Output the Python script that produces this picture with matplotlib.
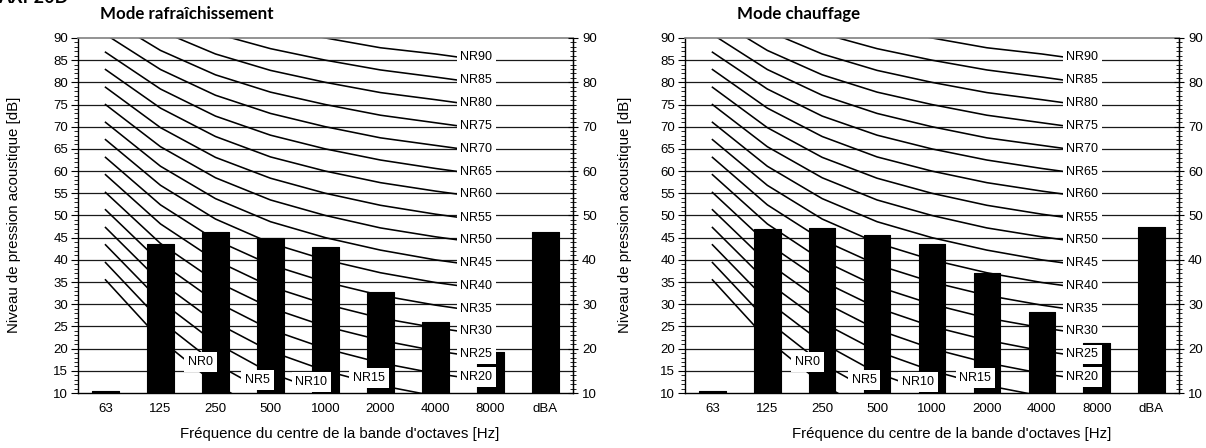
import numpy as np
import matplotlib.pyplot as plt
from matplotlib.ticker import MultipleLocator

plt.rcParams['font.family'] = ['Liberation Sans', 'DejaVu Sans']

# Bandes d'octaves
categories = ['63', '125', '250', '500', '1000', '2000', '4000', '8000', 'dBA']

# Niveaux mesurés [dB]
cooling = [10.5, 43.5, 46.3, 44.9, 42.9, 32.8, 26.1, 19.3, 46.3]
heating = [10.5, 46.9, 47.2, 45.7, 43.5, 37.1, 28.3, 21.2, 47.3]

# Courbes NR (63 ... 8000 Hz)
nr_levels = [0, 5, 10, 15, 20, 25, 30, 35, 40, 45, 50, 55, 60, 65, 70, 75, 80, 85, 90]
nr_table = [
    [35.5, 22.0, 12.0, 4.8, 0.0, -3.5, -6.1, -8.0],
    [39.4, 26.3, 16.6, 9.7, 5.0, 1.6, -1.0, -2.8],
    [43.4, 30.7, 21.3, 14.5, 10.0, 6.6, 4.2, 2.3],
    [47.3, 35.0, 25.9, 19.4, 15.0, 11.7, 9.3, 7.4],
    [51.3, 39.4, 30.6, 24.3, 20.0, 16.8, 14.4, 12.6],
    [55.2, 43.7, 35.2, 29.2, 25.0, 21.9, 19.5, 17.7],
    [59.2, 48.1, 39.9, 34.0, 30.0, 26.9, 24.7, 22.9],
    [63.1, 52.4, 44.5, 38.9, 35.0, 32.0, 29.8, 28.0],
    [67.1, 56.8, 49.2, 43.8, 40.0, 37.1, 34.9, 33.2],
    [71.0, 61.1, 53.8, 48.6, 45.0, 42.2, 40.0, 38.3],
    [75.0, 65.5, 58.5, 53.5, 50.0, 47.2, 45.2, 43.5],
    [78.9, 69.8, 63.1, 58.4, 55.0, 52.3, 50.3, 48.6],
    [82.9, 74.2, 67.8, 63.2, 60.0, 57.4, 55.5, 53.8],
    [86.8, 78.5, 72.4, 68.1, 65.0, 62.5, 60.6, 58.9],
    [90.8, 82.9, 77.1, 73.0, 70.0, 67.5, 65.8, 64.1],
    [94.7, 87.2, 81.7, 77.8, 75.0, 72.6, 70.9, 69.2],
    [98.7, 91.6, 86.4, 82.7, 80.0, 77.7, 76.1, 74.4],
    [102.6, 95.9, 91.0, 87.6, 85.0, 82.8, 81.2, 79.5],
    [106.6, 100.3, 95.7, 92.5, 90.0, 87.8, 86.4, 84.7],
]
# position horizontale des étiquettes NR
nr_label_x = [1.5, 2.54, 3.45, 4.5] + [6.45] * 15


def draw_panel(ax, values):
    ax.set_xlim(-0.5, 8.5)
    ax.set_ylim(10, 90)

    for y in range(15, 90, 5):
        ax.axhline(y, color='#1a1a1a', lw=0.9, zorder=1)

    x_nr = np.arange(8)
    for row in nr_table:
        ax.plot(x_nr, row, color='black', lw=1.15, zorder=2)

    ax.bar(np.arange(len(categories)), values, width=0.48, color='black',
           edgecolor='black', lw=0.8, joinstyle='round', zorder=3)

    for lvl, row, lx in zip(nr_levels, nr_table, nr_label_x):
        ly = np.interp(lx, x_nr, row)
        ax.text(lx, ly, f'NR{lvl}', ha='left', va='center', fontsize=9,
                zorder=4, bbox=dict(fc='white', ec='none', boxstyle='square,pad=0.3'))

    ax.set_xticks(np.arange(len(categories)))
    ax.set_xticklabels(categories, fontsize=9.5)
    ax.tick_params(axis='x', length=0, pad=7)
    ax.yaxis.set_major_locator(MultipleLocator(5))
    ax.yaxis.set_minor_locator(MultipleLocator(1))
    ax.tick_params(axis='y', which='major', length=5, labelsize=9.5, pad=2)
    ax.tick_params(axis='y', which='minor', length=3)
    ax.spines['top'].set_color('#808080')
    ax.spines['top'].set_linewidth(1.2)
    for s in ['left', 'right', 'bottom']:
        ax.spines[s].set_linewidth(1.0)

    ax2 = ax.twinx()
    ax2.set_ylim(10, 90)
    ax2.yaxis.set_major_locator(MultipleLocator(10))
    ax2.yaxis.set_minor_locator(MultipleLocator(1))
    ax2.tick_params(axis='y', which='major', direction='inout', length=7,
                    labelsize=9.5, pad=3)
    ax2.tick_params(axis='y', which='minor', direction='inout', length=5)
    for s in ax2.spines.values():
        s.set_visible(False)
    ax2.spines['right'].set_visible(True)


fig = plt.figure(figsize=(12.06, 4.48), dpi=100)
W, H = 1206, 448

ax_l = fig.add_axes([78 / W, (H - 393) / H, 495 / W, 355 / H])
ax_r = fig.add_axes([685 / W, (H - 393) / H, 494 / W, 355 / H])
draw_panel(ax_l, cooling)
draw_panel(ax_r, heating)

ylab = 'Niveau de pression acoustique [dB]'
xlab = "Fréquence du centre de la bande d'octaves [Hz]"
fig.text(14 / W, 1 - 215 / H, ylab, rotation=90, ha='center', va='center', fontsize=10.8)
fig.text(625 / W, 1 - 215 / H, ylab, rotation=90, ha='center', va='center', fontsize=10.8)
fig.text(340 / W, 1 - 434 / H, xlab, ha='center', va='center', fontsize=10.8)
fig.text(952 / W, 1 - 434 / H, xlab, ha='center', va='center', fontsize=10.8)

fig.text(187 / W, 1 - 14 / H, 'Mode rafraîchissement', ha='center', va='center',
         fontsize=12.2, fontweight='bold', family='Lato')
fig.text(799 / W, 1 - 14 / H, 'Mode chauffage', ha='center', va='center',
         fontsize=12.2, fontweight='bold', family='Lato')
fig.text(-2 / W, 1 - 6 / H, 'AXP20D', ha='left', va='bottom', fontsize=13,
         fontweight='bold', family='Lato')

fig.savefig('out.png', dpi=100)
